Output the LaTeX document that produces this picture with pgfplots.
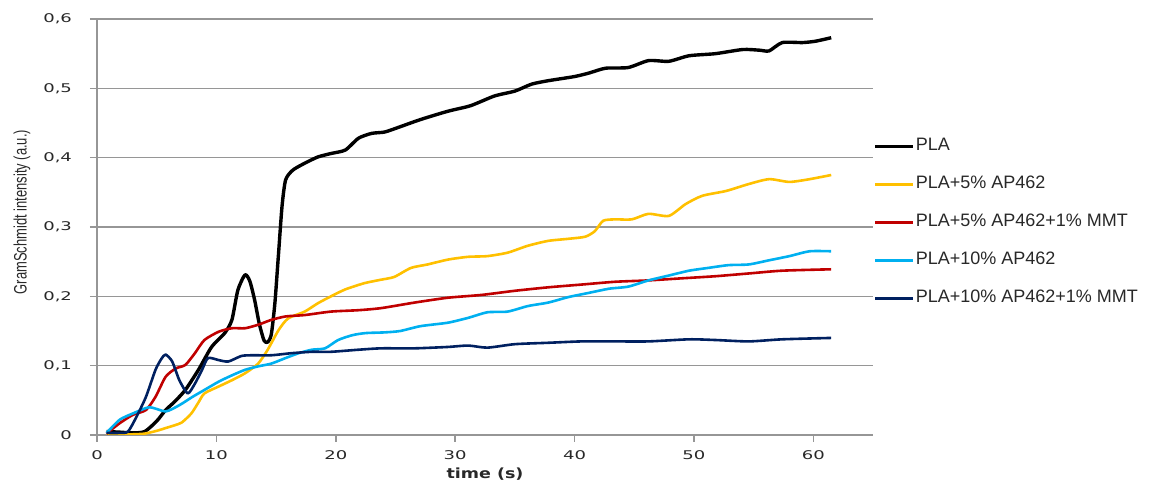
\documentclass[border=0pt]{standalone}
\usepackage{fontspec}
\setmainfont{Liberation Sans}
\newfontfamily\tickfont[FakeStretch=1.5]{DejaVu Sans}
\newfontfamily\labfont[FakeStretch=1.25]{DejaVu Sans}
\newfontfamily\narrowfont[FakeStretch=0.72]{Liberation Sans}
\usepackage{pgfplots}
\pgfplotsset{compat=1.18}
\definecolor{cblack}{HTML}{000000}
\definecolor{cyel}{HTML}{FFC000}
\definecolor{cred}{HTML}{C00000}
\definecolor{clblue}{HTML}{00B0F0}
\definecolor{cdblue}{HTML}{002060}
\definecolor{cgrid}{RGB}{150,150,150}
\definecolor{ctext}{RGB}{40,40,40}
\begin{document}
\begin{tikzpicture}
\useasboundingbox (-48.5pt,-23.5pt) rectangle (528pt,217.5pt);
\begin{axis}[
  at={(0,0)}, anchor=south west,
  scale only axis, width=388pt, height=208pt,
  xmin=0, xmax=65, ymin=0, ymax=0.6,
  axis x line=bottom, axis y line=left,
  axis line style={-, draw=cgrid, line width=0.75pt},
  xtick={0,10,20,30,40,50,60},
  ytick={0,0.1,0.2,0.3,0.4,0.5,0.6},
  ymajorgrids,
  grid style={cgrid, line width=0.75pt},
  tick align=outside,
  major tick length=3.5pt,
  tick style={cgrid, line width=0.75pt},
  /pgf/number format/assume math mode=true,
  yticklabel style={/pgf/number format/fixed, /pgf/number format/precision=1, /pgf/number format/use comma, xshift=-5.5pt},
  xticklabel style={yshift=-1pt},
  tick label style={font=\tickfont\fontsize{6}{7}\selectfont, text=ctext},
  xlabel={\labfont\bfseries time (s)},
  xlabel style={at={(axis description cs:0.5,0)}, anchor=center, yshift=-19.5pt, font=\fontsize{7}{8}\selectfont, text=ctext},
  ylabel={GramSchmidt intensity (a.u.)},
  ylabel style={at={(axis description cs:-0.0966,0.536)}, anchor=center, font=\narrowfont\fontsize{9}{10}\selectfont, text=ctext},
  legend style={at={(rel axis cs:1,0.715)}, anchor=north west, draw=none, fill=none, inner sep=0pt,
    font=\fontsize{9}{10}\selectfont, text=ctext,
    nodes={inner xsep=0.5pt, inner ysep=0pt, text height=6.5pt, text depth=2pt}, row sep=10.5pt},
  legend cell align=left,
  legend image code/.code={\draw[#1] (-2pt,0pt) -- (17pt,0pt);},
  every axis plot/.append style={line join=round, smooth, tension=0.4},
]
\addplot[cblack, line width=1.7pt] coordinates {(0.8,0.005)(2,0.004)(3,0.003)(4,0.005)(5,0.02)(5.75,0.036)(6.5,0.048)(7.4,0.065)(8.5,0.094)(9.6,0.127)(10.7,0.147)(11.3,0.166)(11.8,0.209)(12.4,0.231)(12.8,0.222)(13.2,0.195)(13.6,0.16)(14.0,0.136)(14.3,0.134)(14.6,0.145)(14.9,0.19)(15.2,0.26)(15.5,0.33)(15.8,0.368)(16.4,0.382)(17.4,0.392)(18.5,0.401)(19.6,0.406)(20.8,0.411)(21.9,0.428)(23,0.435)(24.1,0.437)(25.3,0.444)(27.1,0.455)(29.4,0.467)(31.3,0.475)(33.3,0.489)(35.0,0.496)(36.4,0.506)(37.8,0.511)(40.0,0.517)(41.2,0.522)(42.6,0.529)(44.5,0.530)(46.2,0.540)(47.9,0.539)(49.6,0.547)(51.8,0.550)(54.1,0.556)(55.5,0.555)(56.3,0.554)(57.4,0.566)(59.1,0.566)(60.2,0.568)(61.5,0.573)};
\addlegendentry{PLA}
\addplot[cyel, line width=1.3pt] coordinates {(0.8,0.001)(2,0.001)(3,0.001)(4,0.002)(5,0.006)(5.75,0.01)(6.5,0.014)(7.1,0.018)(7.9,0.031)(8.5,0.047)(9.0,0.06)(10.2,0.07)(11.3,0.079)(12.4,0.089)(13.5,0.103)(14.3,0.123)(15.2,0.151)(16.0,0.168)(17.4,0.178)(18.5,0.19)(19.6,0.2)(20.8,0.21)(22.4,0.219)(23.8,0.224)(24.9,0.228)(26.3,0.241)(27.7,0.246)(29.4,0.253)(31.1,0.257)(32.7,0.258)(34.4,0.263)(36.1,0.273)(37.8,0.280)(39.5,0.283)(40.9,0.286)(41.7,0.294)(42.4,0.309)(43.4,0.311)(44.8,0.311)(46.2,0.319)(47.9,0.316)(49.3,0.333)(50.7,0.345)(52.7,0.352)(54.6,0.362)(56.3,0.369)(58.0,0.365)(59.7,0.369)(61.5,0.375)};
\addlegendentry{PLA+5\% AP462}
\addplot[cred, line width=1.3pt] coordinates {(0.8,0.002)(1.9,0.017)(3.0,0.029)(4.1,0.036)(4.9,0.055)(5.75,0.084)(6.6,0.096)(7.4,0.101)(8.2,0.118)(9.0,0.137)(10.2,0.149)(11.3,0.154)(12.4,0.154)(13.5,0.159)(14.6,0.166)(15.8,0.171)(17.4,0.173)(19.6,0.178)(21.9,0.180)(23.8,0.183)(26.6,0.191)(29.4,0.198)(32.2,0.202)(35.0,0.208)(37.8,0.213)(40.6,0.217)(43.4,0.221)(46.2,0.223)(49.0,0.226)(51.8,0.229)(54.6,0.233)(57.4,0.237)(61.5,0.239)};
\addlegendentry{PLA+5\% AP462+1\% MMT}
\addplot[clblue, line width=1.3pt] coordinates {(0.8,0.003)(1.9,0.022)(3.0,0.031)(4.4,0.040)(5.75,0.034)(6.9,0.043)(8.0,0.055)(9.0,0.065)(10.2,0.077)(11.3,0.086)(12.4,0.094)(13.5,0.099)(14.6,0.103)(15.8,0.111)(16.9,0.118)(18.0,0.123)(19.1,0.125)(20.2,0.137)(21.4,0.144)(22.5,0.147)(24.1,0.148)(25.4,0.150)(27.1,0.157)(29.4,0.162)(31.1,0.169)(32.7,0.177)(34.4,0.178)(36.1,0.186)(37.8,0.191)(39.5,0.199)(41.2,0.205)(42.9,0.211)(44.5,0.214)(46.2,0.223)(47.9,0.230)(49.6,0.237)(51.2,0.241)(52.9,0.245)(54.6,0.246)(56.3,0.252)(58.0,0.258)(59.7,0.265)(61.5,0.265)};
\addlegendentry{PLA+10\% AP462}
\addplot[cdblue, line width=1.3pt] coordinates {(0.8,0.003)(1.9,0.003)(2.6,0.005)(3.3,0.026)(4.1,0.055)(4.9,0.094)(5.4,0.110)(5.75,0.116)(6.3,0.106)(6.9,0.079)(7.6,0.060)(8.2,0.074)(8.8,0.094)(9.3,0.111)(10.2,0.108)(11.0,0.106)(12.1,0.114)(13.0,0.115)(14.6,0.115)(16.3,0.118)(18.0,0.120)(19.6,0.120)(21.9,0.123)(23.8,0.125)(26.6,0.125)(29.4,0.127)(31.1,0.129)(32.7,0.126)(35.0,0.131)(37.8,0.133)(40.6,0.135)(43.4,0.135)(46.2,0.135)(49.6,0.138)(51.8,0.137)(54.6,0.135)(57.4,0.138)(61.5,0.140)};
\addlegendentry{PLA+10\% AP462+1\% MMT}
\end{axis}
\end{tikzpicture}
\end{document}
